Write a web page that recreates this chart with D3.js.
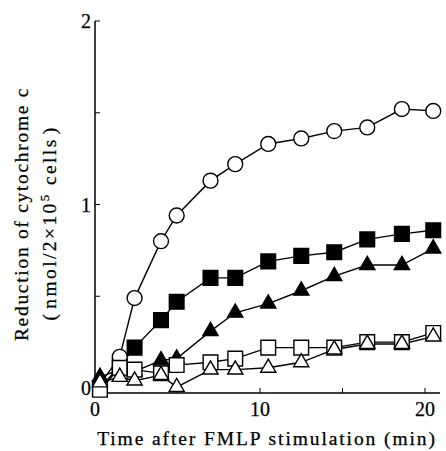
<!DOCTYPE html>
<html>
<head>
<meta charset="utf-8">
<script src="https://cdn.jsdelivr.net/npm/d3@7"></script>
<style>
  body { margin: 0; background: #fff; }
  text { font-family: "Liberation Serif", "DejaVu Serif", serif; fill: #000; stroke: #000; stroke-width: 0.25px; }
</style>
</head>
<body>
<div id="chart"></div>
<script>
const times = [0.3, 1.5, 2.4, 4.0, 4.95, 7.0, 8.5, 10.5, 12.5, 14.5, 16.5, 18.6, 20.5];

const openCircle = [0.02, 0.17, 0.49, 0.80, 0.94, 1.13, 1.22, 1.33, 1.36, 1.40, 1.42, 1.52, 1.51];
const filledSquare = [0.0, 0.12, 0.22, 0.37, 0.47, 0.60, 0.60, 0.69, 0.72, 0.74, 0.81, 0.84, 0.86];
const filledTriangle = [0.06, 0.10, 0.09, 0.15, 0.16, 0.31, 0.41, 0.46, 0.53, 0.61, 0.67, 0.67, 0.76];
const openSquare = [-0.01, 0.11, 0.10, 0.08, 0.125, 0.14, 0.16, 0.22, 0.22, 0.22, 0.25, 0.25, 0.30];
const openTriangle = [0.03, 0.06, 0.04, 0.07, 0.005, 0.10, 0.10, 0.11, 0.14, 0.21, 0.24, 0.24, 0.28];

const xTicks = [0, 10, 20];
const xMinor = [5, 15];
const yTicks = [0, 1, 2];
const yMinor = [0.5, 1.5];

// drawing order: filled square at the bottom, open triangle on top
const series = [
  { name: "filledSquare", values: filledSquare, shape: d3.symbolSquare, fill: "#000" },
  { name: "openCircle", values: openCircle, shape: d3.symbolCircle, fill: "#fff" },
  { name: "filledTriangle", values: filledTriangle, shape: d3.symbolTriangle, fill: "#000" },
  { name: "openSquare", values: openSquare, shape: d3.symbolSquare, fill: "#fff" },
  { name: "openTriangle", values: openTriangle, shape: d3.symbolTriangle, fill: "#fff" }
];

const width = 446, height = 451;
const svg = d3.select("#chart").append("svg")
  .attr("width", width)
  .attr("height", height);

const x = d3.scaleLinear().domain([0, 20]).range([95, 425]);
const y = d3.scaleLinear().domain([0, 2]).range([388, 21]);
const yBase = 393;

// axes lines
svg.append("line")
  .attr("x1", x(0)).attr("x2", 440)
  .attr("y1", yBase).attr("y2", yBase)
  .attr("stroke", "#000").attr("stroke-width", 1.5);
svg.append("line")
  .attr("x1", x(0)).attr("x2", x(0))
  .attr("y1", y(2)).attr("y2", yBase)
  .attr("stroke", "#000").attr("stroke-width", 1.5);

// x ticks (inward)
svg.selectAll(".xt")
  .data(xTicks.concat(xMinor))
  .enter().append("line")
  .attr("x1", d => x(d)).attr("x2", d => x(d))
  .attr("y1", yBase).attr("y2", yBase - 5)
  .attr("stroke", "#000").attr("stroke-width", 1);

svg.selectAll(".xl")
  .data(xTicks)
  .enter().append("text")
  .attr("x", d => x(d))
  .attr("y", 416)
  .attr("text-anchor", "middle")
  .style("font-size", "20px")
  .text(d => d);

// y ticks (inward)
svg.selectAll(".yt")
  .data(yTicks.concat(yMinor))
  .enter().append("line")
  .attr("x1", x(0)).attr("x2", x(0) + 5)
  .attr("y1", d => y(d)).attr("y2", d => y(d))
  .attr("stroke", "#000").attr("stroke-width", 1);

svg.selectAll(".yl")
  .data(yTicks)
  .enter().append("text")
  .attr("x", 91)
  .attr("y", d => y(d) + 7)
  .attr("text-anchor", "end")
  .style("font-size", "20px")
  .text(d => d);

// axis titles
svg.append("text")
  .attr("x", 267).attr("y", 445)
  .attr("text-anchor", "middle")
  .style("font-size", "19.5px")
  .style("letter-spacing", "1.9px")
  .text("Time after FMLP stimulation (min)");

svg.append("text")
  .attr("transform", "translate(28,214) rotate(-90)")
  .attr("text-anchor", "middle")
  .style("font-size", "19.5px")
  .style("letter-spacing", "1.7px")
  .text("Reduction of cytochrome c");

const yl2 = svg.append("text")
  .attr("transform", "translate(56,223) rotate(-90)")
  .attr("text-anchor", "middle")
  .style("font-size", "19.5px")
  .style("letter-spacing", "2.4px");
yl2.append("tspan").text("(");
yl2.append("tspan").attr("dx", 3).text("nmol/2×10");
yl2.append("tspan").attr("dy", -7).style("font-size", "13px").text("5");
yl2.append("tspan").attr("dy", 7).text(" cells");
yl2.append("tspan").attr("dx", 3).text(")");

// series
const line = d3.line()
  .x((d, i) => x(times[i]))
  .y(d => y(d));

const g = svg.append("g");
series.forEach(s => {
  g.append("path")
    .attr("d", line(s.values))
    .attr("fill", "none")
    .attr("stroke", "#000")
    .attr("stroke-width", 1.4);
});

const sizes = new Map([[d3.symbolCircle, 175], [d3.symbolSquare, 215], [d3.symbolTriangle, 100]]);
series.forEach(s => {
  g.selectAll(null)
    .data(s.values)
    .enter().append("path")
    .attr("transform", (d, i) => `translate(${x(times[i])},${y(d)})`)
    .attr("d", d3.symbol().type(s.shape).size(sizes.get(s.shape)))
    .attr("fill", s.fill)
    .attr("stroke", "#000")
    .attr("stroke-width", 1.4);
});
</script>
</body>
</html>
